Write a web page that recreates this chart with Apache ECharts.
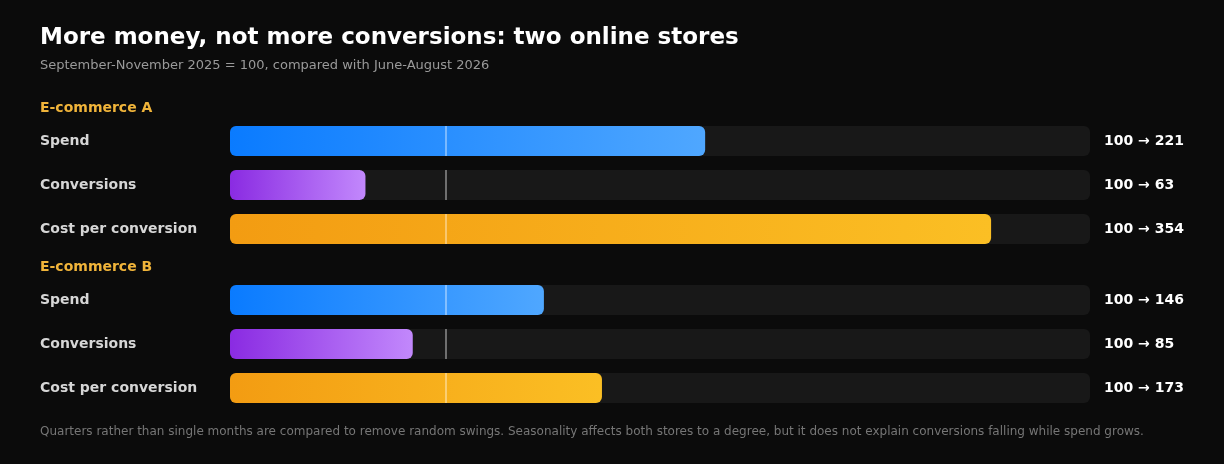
<!DOCTYPE html>
<html>
<head>
<meta charset="utf-8">
<script src="https://cdn.jsdelivr.net/npm/echarts@6/dist/echarts.min.js"></script>
<style>
  html, body { margin: 0; padding: 0; background: #0b0b0b; }
  #main { width: 1224px; height: 464px; }
</style>
</head>
<body>
<div id="main"></div>
<script>
// data
const metrics = ['Spend', 'Conversions', 'Cost per conversion']
const stores = ['E-commerce A', 'E-commerce B']
const baseline = 100
const storeA = [221, 63, 354]
const storeB = [146, 85, 173]
const axisMax = 400

const FONT = 'DejaVu Sans'
// gradient per metric: [start, end]
const metricColors = [
    ['#0a7bff', '#4fa7ff'],
    ['#8a2be2', '#c288fc'],
    ['#f39c12', '#fbbf24']
]

const grad = (c) => new echarts.graphic.LinearGradient(0, 0, 1, 0, [
    { offset: 0, color: c[0] },
    { offset: 1, color: c[1] }
])

const grids = [
    { left: 230, right: 134, top: 119, height: 132 },
    { left: 230, right: 134, top: 278, height: 132 }
]

const series = []
const xAxes = []
const yAxes = []
;[storeA, storeB].forEach((vals, g) => {
    xAxes.push({ gridIndex: g, type: 'value', min: 0, max: axisMax, show: false })
    yAxes.push({
        gridIndex: g, type: 'category', data: metrics, inverse: true,
        axisLine: { show: false }, axisTick: { show: false }, splitLine: { show: false },
        axisLabel: { color: '#d6d6d6', fontFamily: FONT, fontWeight: 'bold', fontSize: 14, align: 'left', margin: 190 }
    })
    // track
    series.push({
        type: 'bar', xAxisIndex: g, yAxisIndex: g, barWidth: 30, barGap: '-100%',
        silent: true, z: 1,
        data: metrics.map(() => axisMax),
        itemStyle: { color: '#181818', borderRadius: 6 },
        label: {
            show: true, position: 'right', distance: 14,
            color: '#ffffff', fontFamily: FONT, fontWeight: 'bold', fontSize: 14,
            formatter: (p) => baseline + ' \u2192 ' + vals[p.dataIndex]
        }
    })
    // value bar
    series.push({
        type: 'bar', xAxisIndex: g, yAxisIndex: g, barWidth: 30, barGap: '-100%',
        silent: true, z: 2,
        data: vals.map((v, i) => ({ value: v, itemStyle: { color: grad(metricColors[i]), borderRadius: 6 } }))
    })
    // baseline marker at 100
    series.push({
        type: 'custom', xAxisIndex: g, yAxisIndex: g, silent: true, z: 3,
        data: metrics.map((m, i) => [baseline, i]),
        renderItem: (params, api) => {
            const p = api.coord([api.value(0), api.value(1)])
            const x = Math.round(p[0]) + 1
            return {
                type: 'line',
                shape: { x1: x, y1: p[1] - 15, x2: x, y2: p[1] + 15 },
                style: { stroke: 'rgba(255,255,255,0.5)', lineWidth: 1.5 }
            }
        }
    })
})

const chart = echarts.init(document.getElementById('main'))
chart.setOption({
    backgroundColor: '#0b0b0b',
    animation: false,
    title: [
        { text: 'More money, not more conversions: two online stores', left: 40, top: 27, padding: 0,
          textStyle: { color: '#ffffff', fontFamily: FONT, fontWeight: 'bold', fontSize: 23 } },
        { text: 'September-November 2025 = 100, compared with June-August 2026', left: 40, top: 59, padding: 0,
          textStyle: { color: '#9a9a9a', fontFamily: FONT, fontWeight: 'normal', fontSize: 13 } },
        { text: stores[0], left: 40, top: 101, padding: 0,
          textStyle: { color: '#f0b43a', fontFamily: FONT, fontWeight: 'bold', fontSize: 14 } },
        { text: stores[1], left: 40, top: 260, padding: 0,
          textStyle: { color: '#f0b43a', fontFamily: FONT, fontWeight: 'bold', fontSize: 14 } },
        { text: 'Quarters rather than single months are compared to remove random swings. Seasonality affects both stores to a degree, but it does not explain conversions falling while spend grows.',
          left: 40, top: 426, padding: 0,
          textStyle: { color: '#767676', fontFamily: FONT, fontWeight: 'normal', fontSize: 12 } }
    ],
    grid: grids,
    xAxis: xAxes,
    yAxis: yAxes,
    series: series
})
</script>
</body>
</html>
